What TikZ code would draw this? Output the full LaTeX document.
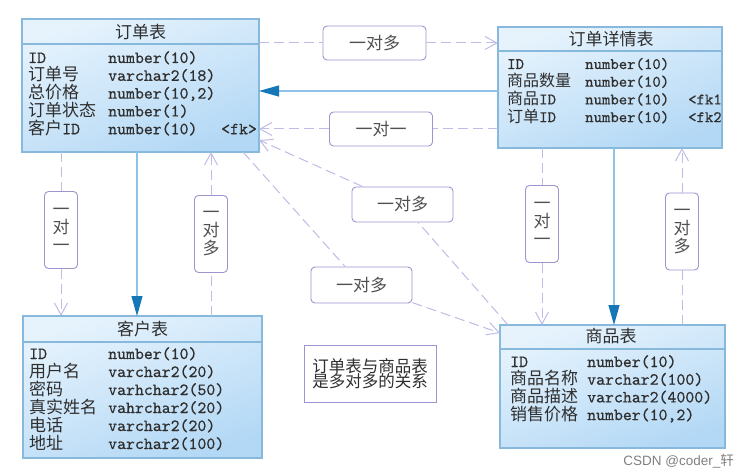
\documentclass[tikz,border=0pt]{standalone}
\usepackage{fontspec}
\newfontfamily\cjk{Noto Sans CJK SC}
\newfontfamily\wmfont{Liberation Sans}
\newfontfamily\mono{lmmono10-regular}[Extension=.otf, FakeBold=0.6]
\usetikzlibrary{arrows.meta}
\definecolor{tborder}{HTML}{86B9DC}
\definecolor{ttop}{HTML}{E6F3FD}
\definecolor{tbot}{HTML}{B3D8F5}
\definecolor{dashc}{HTML}{BDBDE6}
\definecolor{solidc}{HTML}{8EC2E6}
\definecolor{arrowc}{HTML}{1677B8}
\definecolor{lblborder}{HTML}{9D94D2}
\definecolor{txt}{HTML}{2E2E2E}
\definecolor{lbltxt}{HTML}{505050}
\begin{document}
\begin{tikzpicture}[x=1pt,y=-1pt,
  tbl/.style={draw=tborder, line width=1.2pt, top color=ttop, bottom color=tbot, shading angle=20, inner sep=0pt, outer sep=0pt},
  hdr/.style={inner sep=0pt, font=\cjk\fontsize{17}{18}\selectfont, text=txt},
  cell/.style={anchor=base west, inner sep=0pt, font=\mono\fontsize{17}{18}\selectfont, text=txt},
  scell/.style={cell, font=\mono\fontsize{16}{18}\selectfont},
  sepline/.style={draw=tborder, line width=1.5pt},
  rel/.style={draw=lblborder, line width=0.9pt, rounded corners=4pt, fill=white, inner sep=0pt, font=\cjk\fontsize{17}{18}\selectfont, text=lbltxt, align=center},
  hrel/.style={rel, minimum width=103pt, minimum height=34pt},
  vrel/.style={rel, minimum width=33pt, minimum height=77pt},
  dashconn/.style={draw=dashc, line width=1pt, dash pattern=on 10pt off 5pt, -{Straight Barb[length=12pt,width=13pt]}},
  solidconn/.style={draw=solidc, line width=1.2pt, -{Triangle[length=20pt,width=11pt,color=arrowc]}}
]
\useasboundingbox[fill=white] (0,0) rectangle (747,476);

% tables
\node[tbl, minimum width=237pt, minimum height=133pt] (t1) at (140.5,85.5) {};
\node[tbl, minimum width=224pt, minimum height=121pt] (t2) at (610,87.5) {};
\node[tbl, minimum width=239pt, minimum height=142pt] (t3) at (142.5,387) {};
\node[tbl, minimum width=225pt, minimum height=123pt] (t4) at (612.5,386.5) {};

\draw[sepline] ([yshift=-25pt]t1.north west) -- ([yshift=-25pt]t1.north east);
\draw[sepline] ([yshift=-24pt]t2.north west) -- ([yshift=-24pt]t2.north east);
\draw[sepline] ([yshift=-26pt]t3.north west) -- ([yshift=-26pt]t3.north east);
\draw[sepline] ([yshift=-24pt]t4.north west) -- ([yshift=-24pt]t4.north east);

\node[hdr] (h1) at (140.5,32) {订单表};
\node[hdr] (h2) at (611,39) {订单详情表};
\node[hdr] (h3) at (142.5,329.5) {客户表};
\node[hdr] (h4) at (611,336.5) {商品表};

% 订单表 rows
\node[cell] (a1n) at (28,63) {ID};
\node[cell] (a1t) at (108,63) {number(10)};
\node[cell] (a2n) at (28,80.8) {{\cjk 订单号}};
\node[cell] (a2t) at (108,80.8) {varchar2(18)};
\node[cell] (a3n) at (28,98.6) {{\cjk 总价格}};
\node[cell] (a3t) at (108,98.6) {number(10,2)};
\node[cell] (a4n) at (28,116.4) {{\cjk 订单状态}};
\node[cell] (a4t) at (108,116.4) {number(1)};
\node[cell] (a5n) at (28,134.2) {{\cjk 客户}ID};
\node[cell] (a5t) at (108,134.2) {number(10)};
\node[cell] (a5k) at (221,134.2) {<fk>};

% 订单详情表 rows
\begin{scope}
\clip (497,27) rectangle (720.5,148);
\node[scell] (b1n) at (507,69) {ID};
\node[scell] (b1t) at (585,69) {number(10)};
\node[scell] (b2n) at (507,86.7) {{\cjk 商品数量}};
\node[scell] (b2t) at (585,86.7) {number(10)};
\node[scell] (b3n) at (507,104.4) {{\cjk 商品}ID};
\node[scell] (b3t) at (585,104.4) {number(10)};
\node[scell] (b3k) at (688,104.4) {<fk1>};
\node[scell] (b4n) at (507,122.1) {{\cjk 订单}ID};
\node[scell] (b4t) at (585,122.1) {number(10)};
\node[scell] (b4k) at (688,122.1) {<fk2>};
\end{scope}

% 客户表 rows
\node[cell] (c1n) at (29,359) {ID};
\node[cell] (c1t) at (108,359) {number(10)};
\node[cell] (c2n) at (29,377) {{\cjk 用户名}};
\node[cell] (c2t) at (108,377) {varchar2(20)};
\node[cell] (c3n) at (29,395) {{\cjk 密码}};
\node[cell] (c3t) at (108,395) {varhchar2(50)};
\node[cell] (c4n) at (29,413) {{\cjk 真实姓名}};
\node[cell] (c4t) at (108,413) {vahrchar2(20)};
\node[cell] (c5n) at (29,431) {{\cjk 电话}};
\node[cell] (c5t) at (108,431) {varchar2(20)};
\node[cell] (c6n) at (29,449) {{\cjk 地址}};
\node[cell] (c6t) at (108,449) {varchar2(100)};

% 商品表 rows
\node[cell] (d1n) at (510,367) {ID};
\node[cell] (d1t) at (587,367) {number(10)};
\node[cell] (d2n) at (510,384.7) {{\cjk 商品名称}};
\node[cell] (d2t) at (587,384.7) {varchar2(100)};
\node[cell] (d3n) at (510,402.4) {{\cjk 商品描述}};
\node[cell] (d3t) at (587,402.4) {varchar2(4000)};
\node[cell] (d4n) at (510,420.1) {{\cjk 销售价格}};
\node[cell] (d4t) at (587,420.1) {number(10,2)};

% relation labels
\node[hrel] (L1) at (374.5,43) {一对多};
\node[hrel] (L2) at (381,129) {一对一};
\node[vrel] (L3) at (61,230) {一\\对\\一};
\node[vrel] (L4) at (211,234) {一\\对\\多};
\node[hrel, minimum width=101pt, minimum height=35pt] (L5) at (402.5,204.5) {一对多};
\node[hrel, minimum width=101pt, minimum height=36pt] (L6) at (361.5,285) {一对多};
\node[vrel] (L7) at (542,224) {一\\对\\一};
\node[vrel] (L8) at (682,231.5) {一\\对\\多};

% connectors
\draw[dashconn] ([yshift=-24pt]t1.north east) -- (L1) -- ([yshift=-16pt]t2.north west);
\draw[solidconn] ([yshift=-64pt]t2.north west) -- ([yshift=-72pt]t1.north east);
\draw[dashconn] ([yshift=-102pt]t2.north west) -- (L2) -- ([yshift=-110pt]t1.north east);
\draw[dashconn] ([xshift=39pt]t1.south west) -- (L3) -- ([xshift=38pt]t3.north west);
\draw[solidconn] ([xshift=115pt]t1.south west) -- ([xshift=114pt]t3.north west);
\draw[dashconn] ([xshift=188pt]t3.north west) -- (L4) -- ([xshift=189pt]t1.south west);
\draw[dashconn] ([xshift=8pt]t4.north west) -- (L5) -- ([yshift=12pt]t1.south east);
\draw[dashconn] ([xshift=221pt]t1.south west) -- (L6) -- ([yshift=-8pt]t4.north west);
\draw[dashconn] ([xshift=44pt]t2.south west) -- (L7) -- ([xshift=42pt]t4.north west);
\draw[solidconn] ([xshift=116pt]t2.south west) -- ([xshift=114pt]t4.north west);
\draw[dashconn] ([xshift=182pt]t4.north west) -- (L8) -- ([xshift=184pt]t2.south west);

% note
\node[draw=lblborder, line width=0.9pt, minimum width=132pt, minimum height=57pt, inner sep=0pt, align=center, font=\cjk\fontsize{16.5}{15.5}\selectfont, text=txt] (note) at (370,373.5) {订单表与商品表\\是多对多的关系};

% watermark
\node[anchor=east, inner sep=0pt, font=\wmfont\fontsize{13.5}{14}\selectfont, text=black!50] (wm) at (734,461) {CSDN @coder\_{\cjk 轩}};
\end{tikzpicture}
\end{document}
